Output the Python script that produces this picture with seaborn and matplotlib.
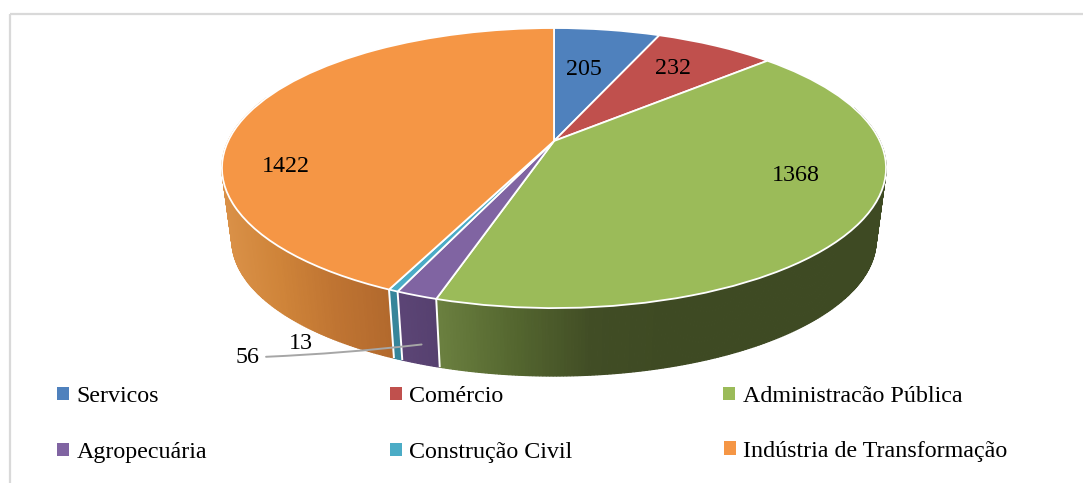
import numpy as np
import matplotlib
matplotlib.use("Agg")
import matplotlib.pyplot as plt
import matplotlib.patches as mpatches
import matplotlib.transforms as mtransforms
import seaborn as sns

# --- Dados ---
setores = ['Servicos', 'Comércio', 'Administracão Pública',
           'Agropecuária', 'Construção Civil', 'Indústria de Transformação']
valores = [205, 232, 1368, 56, 13, 1422]
rotulos = ['205', '232', '1368', '56', '13', '1422']

cores_topo = ['#4F81BD', '#C0504D', '#9BBB59', '#8064A2', '#4BACC6', '#F59645']
# cor da lateral: do lado esquerdo para o direito da figura
cores_lateral = {
    2: ['#6A7F3F', '#54662F', '#414D25', '#3E4A23', '#3E4A23'],
    3: ['#5C4576', '#56406F'],
    4: ['#36859A', '#36859A'],
    5: ['#DA9148', '#CF8439', '#BF7432', '#B2692D'],
}

# --- Geometria (pixels da figura) ---
LARG, ALT = 1083, 483
CX, CY = 554, 141
A, B, K = 325.8, 134.8, 0.193
ESCALA_BASE, DESLOC_BASE = 0.97, 73
POS_ROTULOS = {0: (584, 69.5), 1: (673, 68.5), 2: (795.5, 175.5), 5: (285.5, 166.5), 4: (301, 343.5)}
POS_56 = (248, 357.5)
LEG_X = [57, 389.5, 723]
LEG_Y = [396.5, 452.5]
LEG_AJUSTE = {5: (0.5, -1.5)}


def projeta(x, y, escala=1.0, dy=0.0):
    w = 1 + K * y
    return CX + escala * A * x / w, CY + dy - escala * B * y / w


class Perspectiva(mtransforms.Transform):
    input_dims = 2
    output_dims = 2

    def transform_non_affine(self, xy):
        xy = np.asarray(xy, dtype=float)
        px, py = projeta(xy[:, 0], xy[:, 1])
        return np.column_stack([px, py])


sns.set_theme(style="white")
plt.rcParams['font.family'] = ['Liberation Serif', 'DejaVu Serif']

fig = plt.figure(figsize=(LARG / 100, ALT / 100), dpi=100)
ax = fig.add_axes([0, 0, 1, 1])

fracao = np.cumsum([0] + valores) / sum(valores) * 2 * np.pi

# lateral da pizza, em tiras finas
for i in [5, 4, 3, 2]:
    ini, fim = max(fracao[i], np.radians(75)), min(fracao[i + 1], np.radians(290))
    n = max(int(np.degrees(fim - ini) * 2), 2)
    ang = np.linspace(ini, fim, n + 1)
    x, y = np.sin(ang), np.cos(ang)
    xt, yt = projeta(x, y)
    xb, yb = projeta(x, y, ESCALA_BASE, DESLOC_BASE)
    paleta = sns.blend_palette(cores_lateral[i], n_colors=256)
    for j in range(n):
        meio_x = (xt[j] + xt[j + 1]) / 2
        if i == 2:
            pos = np.clip((meio_x - 440) / 300, 0, 1)
        else:
            pos = np.clip((meio_x - xt.min()) / (xt.max() - xt.min() + 1e-9), 0, 1)
        cor = paleta[int(pos * 255)]
        ax.fill([xt[j], xt[j + 1], xb[j + 1], xb[j]], [yt[j], yt[j + 1], yb[j + 1], yb[j]],
                facecolor=cor, edgecolor=cor, lw=0.9, zorder=2 + (yt[j] - 100) / 1000)

# separadores brancos entre as fatias
for a in fracao[3:6]:
    sx, sy = np.sin(a), np.cos(a)
    p0 = projeta(sx, sy)
    p1 = projeta(sx, sy, ESCALA_BASE, DESLOC_BASE)
    ax.plot([p0[0], p1[0]], [p0[1], p1[1]], color='white', lw=1.4, zorder=3, solid_capstyle='butt')

# topo
wedges, _ = ax.pie(valores, colors=cores_topo, startangle=90, counterclock=False,
                   wedgeprops=dict(edgecolor='white', linewidth=1.3))
persp = Perspectiva()
for w in wedges:
    w.set_transform(persp + ax.transData)
    w.set_zorder(4)

ax.set_aspect('auto')
ax.set_xlim(0, LARG)
ax.set_ylim(ALT, 0)
ax.set_axis_off()

# moldura cinza
ax.add_patch(mpatches.Rectangle((10, 14), LARG + 20, ALT + 20, fill=False,
                                edgecolor='#D9D9D9', lw=1.6, zorder=1))

# rotulos
for i, pos in POS_ROTULOS.items():
    ax.text(pos[0], pos[1], rotulos[i], fontsize=17.25, color='black',
            ha='center', va='center', zorder=6)

meio = (fracao[3] + fracao[4]) / 2
mx, my = projeta(np.sin(meio), np.cos(meio))
ax.annotate(rotulos[3], xy=(mx + 5, my + 49), xytext=POS_56, fontsize=17.25, color='black',
            ha='center', va='center', zorder=6,
            arrowprops=dict(arrowstyle='-', color='#A6A6A6', lw=1.4, shrinkA=2, shrinkB=0,
                            connectionstyle='arc3,rad=0.02'))

# legenda
for i, nome in enumerate(setores):
    dx, dy = LEG_AJUSTE.get(i, (0, 0))
    h = mpatches.Patch(facecolor=cores_topo[i], edgecolor='none', label=nome)
    leg = ax.legend(handles=[h], loc='center left', frameon=False, fontsize=17.25, labelcolor='black',
                    bbox_to_anchor=(LEG_X[i % 3] + dx, LEG_Y[i // 3] + dy), bbox_transform=ax.transData,
                    borderpad=0, borderaxespad=0, handlelength=0.52, handleheight=0.5,
                    handletextpad=0.3)
    if i < len(setores) - 1:
        ax.add_artist(leg)

plt.savefig('out.png', dpi=100)
